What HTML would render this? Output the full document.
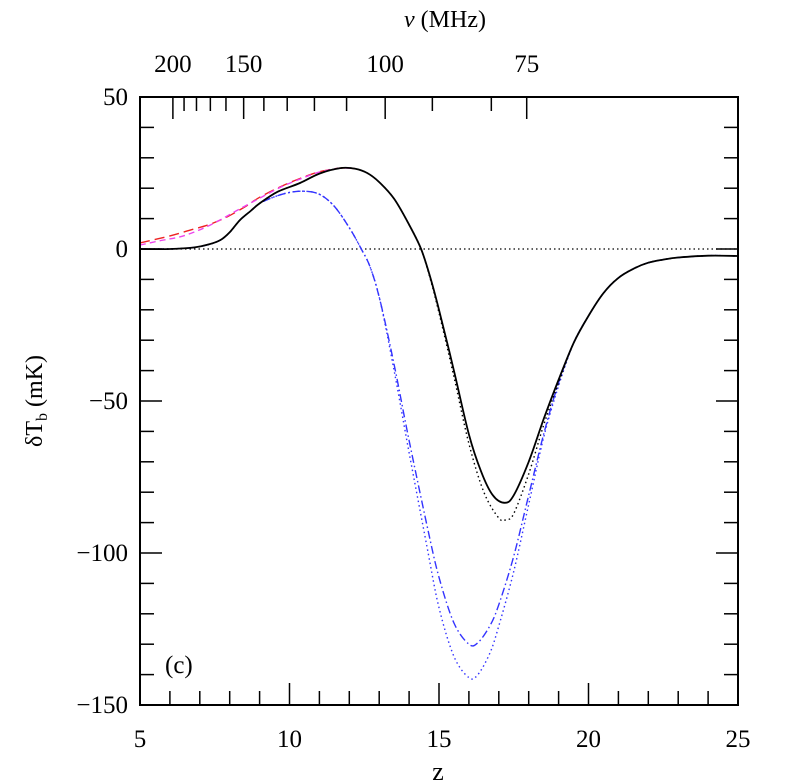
<!DOCTYPE html>
<html><head><style>
body{margin:0;background:#fff}
svg{display:block}
text{font-family:"Liberation Serif",serif;fill:#000}
</style></head><body>
<svg id="s" width="793" height="784" xmlns="http://www.w3.org/2000/svg">
<rect x="0" y="0" width="793" height="784" fill="#fff"/>
<g id="g"></g>
<text x="445" y="27" font-size="24" text-anchor="middle"><tspan font-style="italic">ν</tspan>  (MHz)</text>
<text x="438" y="780" font-size="26" text-anchor="middle">z</text>
<text transform="translate(42,401) rotate(-90)" font-size="24" text-anchor="middle">δT<tspan font-size="16" dy="5">b</tspan><tspan dy="-5">  (mK)</tspan></text>
<text x="165" y="673" font-size="25">(c)</text>
</svg>
<script>
const L=140,R=738,T=97,B=705;
const X=z=>L+(z-5)*(R-L)/20, Y=v=>T+(50-v)*(B-T)/200;
let h='';
const ln=(a,b,c,d,w=1.5,st='#000',da='')=>h+=`<line x1="${a}" y1="${b}" x2="${c}" y2="${d}" stroke="${st}" stroke-width="${w}" ${da?`stroke-dasharray="${da}"`:''}/>`;
const tx=(x,y,s,a='middle',fs=22)=>h+=`<text x="${x}" y="${y}" font-size="${fs}" text-anchor="${a}">${s}</text>`;
ln(L,Y(0),R,Y(0),1.3,'#000','1.5,3');
function path(p,col,da,w=1.5){
 let d='M'+X(p[0][0]).toFixed(1)+','+Y(p[0][1]).toFixed(1);
 for(let i=0;i<p.length-1;i++){
  const p0=p[Math.max(0,i-1)],p1=p[i],p2=p[i+1],p3=p[Math.min(p.length-1,i+2)];
  const P=q=>[X(q[0]),Y(q[1])];
  const a=P(p0),b=P(p1),c=P(p2),e=P(p3);
  const c1=[b[0]+(c[0]-a[0])/6,b[1]+(c[1]-a[1])/6],c2=[c[0]-(e[0]-b[0])/6,c[1]-(e[1]-b[1])/6];
  d+=`C${c1[0].toFixed(1)},${c1[1].toFixed(1)} ${c2[0].toFixed(1)},${c2[1].toFixed(1)} ${c[0].toFixed(1)},${c[1].toFixed(1)}`;
 }
 h+=`<path d="${d}" fill="none" stroke="${col}" stroke-width="${w}" ${da?`stroke-dasharray="${da}"`:''}/>`;
}
const tail=[[19.5,-31],[20,-22],[20.5,-14.5],[21,-9.5],[21.5,-6.5],[22,-4.5],[22.5,-3.5],[23,-2.8],[24,-2.2],[25,-2.3]];
const head=[[5,0],[6,0],[6.8,0.5],[7.3,1.5],[7.7,3],[8,5.5],[8.34,9.5],[8.7,12.5],[9,15]];
const mid=[[10.35,21.7],[11,24.8],[11.7,26.6],[12.2,26.4],[12.6,25],[13,22],[13.5,16.5],[14,8],[14.4,0],[14.7,-9]];
const black=[...head,[9.6,18.8],...mid,[15,-20],[15.5,-40],[16,-61],[16.4,-73],[16.8,-81],[17.2,-83.5],[17.5,-81],[18,-70],[18.5,-56],[19,-43],...tail];
const bdot=[...head,[9.6,18.8],...mid.slice(0,-1),[14.7,-9.5],[15,-21],[15.5,-42],[16,-64],[16.5,-80],[17,-88.5],[17.25,-89],[17.5,-87],[18,-74],[18.5,-58],[19,-44],...tail];
const red=[[5,2],[6,4.3],[6.67,6.2],[7.3,8],[7.9,10.5],[8.5,13.8],[9,17],[9.7,20.5],[10.35,23.2],[11,25.4],[11.7,26.6],[12.2,26.4]];
const mag=[[5,1.3],[5.7,2.8],[6.34,4],[7,6.3],[7.67,9.5],[8.3,13],[9,16.7],[9.7,20.3],[10.35,23],[11,25.3],[11.7,26.6],[12.2,26.4]];
const bh=[...head,[9.4,16.8],[9.9,18.4],[10.45,19],[11,18],[11.5,14],[12,7],[12.4,0],[12.7,-6],[13.03,-17]];
const bdd=[...bh,[13.5,-38],[14,-63],[14.6,-91],[15,-108],[15.5,-123],[16,-130],[16.3,-129.5],[16.7,-124],[17,-117],[17.5,-101],[18,-81],[18.5,-61],[19,-44],...tail];
const bd=[...bh,[13.5,-40],[14,-67],[14.6,-98],[15,-118],[15.5,-134],[16,-141],[16.3,-140],[16.7,-133],[17,-124],[17.5,-106],[18,-84],[18.5,-62],[19,-45],...tail];
path(bd,'#3333ff','1.5,3',1.4);
path(bdd,'#3333ff','8,3,1.5,3',1.4);
path(red,'#ee2222','10,5',1.4);
path(mag,'#ee44ee','6,4',1.4);
path(bdot,'#000','1.5,3',1.4);
path(black,'#000','',1.8);
h+=`<rect x="${L}" y="${T}" width="${R-L}" height="${B-T}" fill="none" stroke="#000" stroke-width="2"/>`;
for(let z=5;z<=25;z++){const maj=z%5==0;const l=maj?22:14;ln(X(z),B,X(z),B-l);if(maj)tx(X(z),B+42,z,'middle',25);}
for(let v=-150;v<=50;v+=10){const maj=v%50==0;const l=maj?22:14;ln(L,Y(v),L+l,Y(v));ln(R,Y(v),R-l,Y(v));if(maj)tx(L-12,Y(v)+8,v<0?'−'+(-v):v,'end',25);}
const zn=n=>1420/n-1;
for(const n of [200,190,180,170,160,150,140,130,120,110,100,90,80,75]){const z=zn(n);if(z<5||z>25)continue;const maj=[200,150,100,75].includes(n);ln(X(z),T,X(z),T+(maj?22:14));if(maj)tx(X(z),T-25,n,'middle',25);}
document.getElementById('g').innerHTML=h;
</script>
</body></html>
